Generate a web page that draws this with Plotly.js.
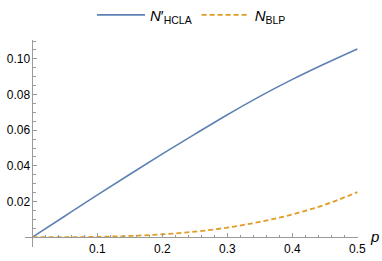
<!DOCTYPE html>
<html><head><meta charset="utf-8">
<script src="https://cdn.plot.ly/plotly-3.0.1.min.js"></script>
<style>html,body{margin:0;padding:0;background:#fff}#plot{width:382px;height:261px}</style>
</head><body><div id="plot"></div>
<script>
const pValues = [0, 0.05, 0.1, 0.15, 0.2, 0.25, 0.3, 0.35, 0.4, 0.45, 0.5];
const nHCLA = [0, 0.0119, 0.0237, 0.0353, 0.0467, 0.0578, 0.0687, 0.0790, 0.0885, 0.0973, 0.1056];
const nBLP  = [0, 0.00002, 0.0002, 0.0007, 0.0016, 0.0031, 0.0054, 0.0086, 0.0128, 0.0182, 0.0253];
const xTickVals = [0.1, 0.2, 0.3, 0.4, 0.5];
const xTickText = ["0.1", "0.2", "0.3", "0.4", "0.5"];
const yTickVals = [0.02, 0.04, 0.06, 0.08, 0.10];
const yTickText = ["0.02", "0.04", "0.06", "0.08", "0.10"];
const xMinorVals = [0.02,0.04,0.06,0.08,0.12,0.14,0.16,0.18,0.22,0.24,0.26,0.28,0.32,0.34,0.36,0.38,0.42,0.44,0.46,0.48];
const yMinorVals = [0.005,0.01,0.015,0.025,0.03,0.035,0.045,0.05,0.055,0.065,0.07,0.075,0.085,0.09,0.095,0.105,0.11];

const xRange = [-0.0115, 0.501];
const yRange = [-0.0055, 0.1106];
const axisColor = '#9a9a9a';
const font = {family: 'Liberation Sans, Arial, sans-serif', size: 12, color: '#000'};

const traces = [
  {x: pValues, y: nHCLA, mode: 'lines', name: '<i>N</i>′<sub>HCLA</sub>',
   line: {color: '#5E81B5', width: 1.6, shape: 'spline'}},
  {x: pValues, y: nBLP, mode: 'lines', name: '<i>N</i><sub>BLP</sub>',
   line: {color: '#E19C24', width: 1.8, dash: '5px,3px', shape: 'spline'}}
];

const layout = {
  width: 382, height: 261,
  margin: {l: 25, r: 23.5, t: 40, b: 14, autoexpand: false},
  paper_bgcolor: '#fff', plot_bgcolor: '#fff',
  font: font,
  showlegend: true,
  legend: {orientation: 'h', x: 0.5, xanchor: 'center', y: 1.2, yanchor: 'top',
           itemwidth: 48, tracegroupgap: 0,
           font: {family: 'Liberation Sans, Arial, sans-serif', size: 15, color: '#000'},
           bgcolor: 'rgba(0,0,0,0)'},
  xaxis: {range: xRange, showgrid: false, zeroline: false, showline: true, linecolor: axisColor, linewidth: 1,
          anchor: 'free', position: (0 - yRange[0]) / (yRange[1] - yRange[0]),
          tickmode: 'array', tickvals: xTickVals, ticktext: xTickText,
          ticks: 'inside', ticklen: 4, tickcolor: axisColor, tickwidth: 1,
          minor: {tickmode: 'array', tickvals: xMinorVals, ticks: 'inside', ticklen: 2.5, tickcolor: axisColor, showgrid: false},
          tickfont: font},
  yaxis: {range: yRange, showgrid: false, zeroline: false, showline: true, linecolor: axisColor, linewidth: 1,
          anchor: 'free', position: (0 - xRange[0]) / (xRange[1] - xRange[0]),
          tickmode: 'array', tickvals: yTickVals, ticktext: yTickText,
          ticks: 'inside', ticklen: 4, tickcolor: axisColor, tickwidth: 1,
          minor: {tickmode: 'array', tickvals: yMinorVals, ticks: 'inside', ticklen: 2.5, tickcolor: axisColor, showgrid: false},
          tickfont: font},
  annotations: [{xref: 'x', yref: 'y', x: 0.5, y: 0, xanchor: 'left', yanchor: 'middle', xshift: 11, yshift: 1,
                 text: '<i>p</i>', showarrow: false, font: {family: 'Liberation Sans, Arial, sans-serif', size: 15, color: '#000'}}]
};

Plotly.newPlot('plot', traces, layout, {staticPlot: true, displayModeBar: false});
</script></body></html>
